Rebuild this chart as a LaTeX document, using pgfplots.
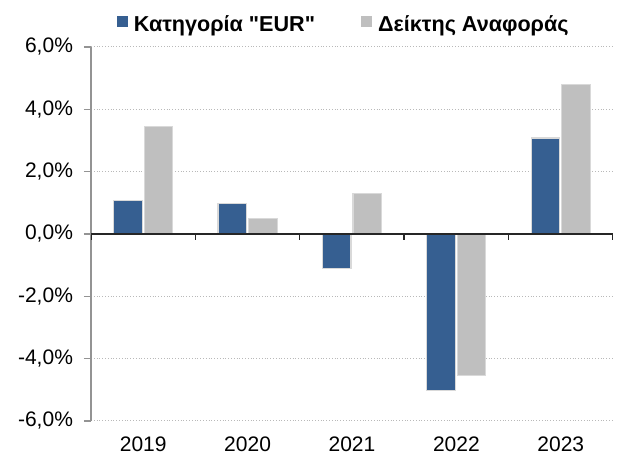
\documentclass[border=0pt]{standalone}
\usepackage{fontspec}
\setmainfont{Liberation Sans}[Ligatures=TeXOff]
\usepackage{pgfplots}
\pgfplotsset{compat=1.18}
\definecolor{eurblue}{RGB}{54,95,145}
\definecolor{refgray}{RGB}{191,191,191}
\definecolor{edgegray}{RGB}{217,217,217}
\begin{document}
\begin{tikzpicture}
\begin{axis}[
  width=261pt, height=187pt, scale only axis,
  xmin=-0.5, xmax=4.5, ymin=-6, ymax=6,
  ybar=1pt, bar width=14.25pt,
  axis x line*=bottom, axis y line*=left,
  x axis line style={draw=none},
  y axis line style={draw=gray!85, line width=0.6pt},
  xtick={0,1,2,3,4}, xticklabels={2019,2020,2021,2022,2023},
  x tick style={draw=none},
  ytick={-6,-4,-2,0,2,4,6},
  y tick style={draw=gray!85, line width=0.6pt},
  tick align=outside, major tick length=3.5pt,
  ymajorgrids, grid style={densely dotted, gray!55, line width=0.5pt},
  /pgf/number format/assume math mode=true,
  yticklabel={\pgfmathprintnumber[fixed, fixed zerofill, precision=1, use comma]{\tick}\%},
  tick label style={font=\fontsize{10.5}{12}\selectfont},
  yticklabel style={xshift=-2pt},
  xticklabel style={inner sep=0.5pt, yshift=-3.5pt},
  legend style={at={(0.0489,1.058)}, anchor=west, draw=none, fill=none, inner sep=0pt,
    nodes={inner sep=0pt},
    font=\bfseries\fontsize{10.8}{12}\selectfont,
    /tikz/every odd column/.append style={column sep=3pt},
    /tikz/every even column/.append style={column sep=23pt}},
  legend columns=2, legend cell align=left,
  legend image code/.code={\fill[#1, draw=none] (0pt,-0.9pt) rectangle (5.5pt,4.6pt);},
]
\addplot[fill=eurblue, draw=edgegray, line width=0.6pt] coordinates {(0,1.08) (1,0.97) (2,-1.10) (3,-5.01) (4,3.08)};
\addplot[fill=refgray, draw=edgegray, line width=0.6pt] coordinates {(0,3.45) (1,0.50) (2,1.31) (3,-4.53) (4,4.79)};
\legend{Κατηγορία "EUR", Δείκτης Αναφοράς}
\draw[black!85, line width=0.7pt] (axis cs:-0.5,0) -- (axis cs:4.5,0);
\pgfplotsinvokeforeach{-0.5,0.5,1.5,2.5,3.5,4.5}{\draw[black!85, line width=0.7pt] (axis cs:#1,0) -- ++(0pt,-3pt);}
\end{axis}
\pgfresetboundingbox
\path (-45.5pt,-16pt) rectangle (264.5pt,210.5pt);
\end{tikzpicture}
\end{document}
